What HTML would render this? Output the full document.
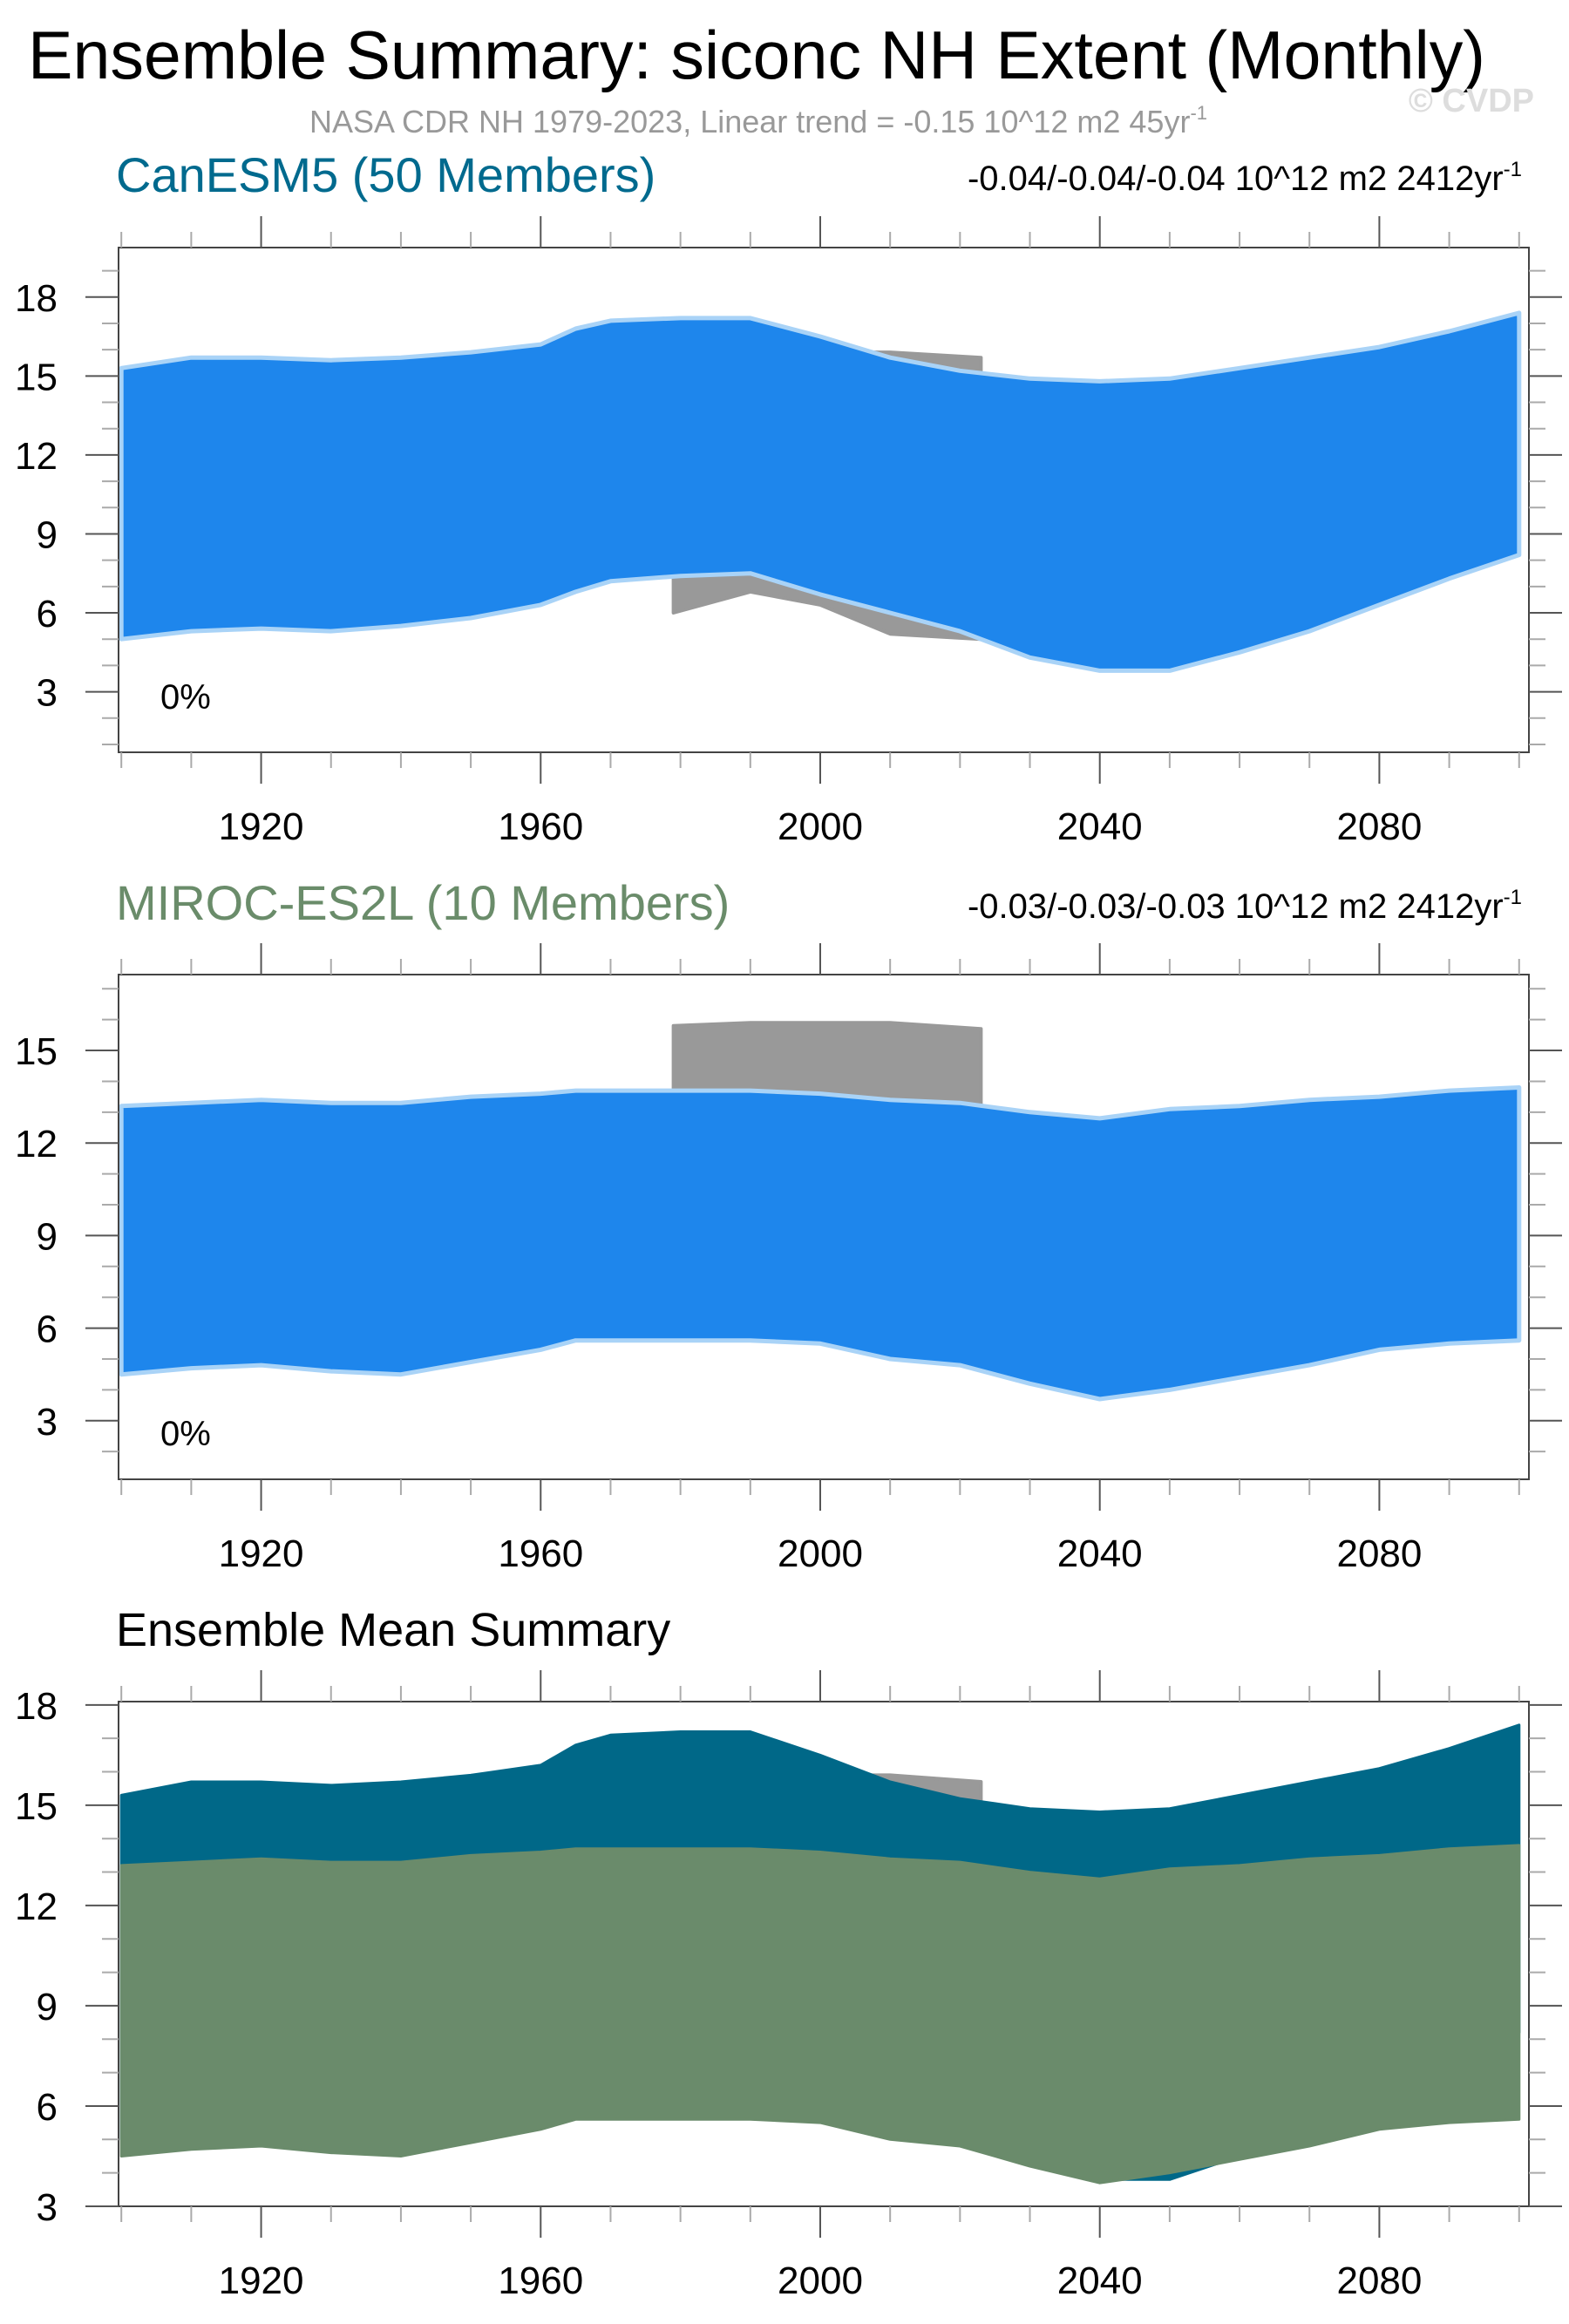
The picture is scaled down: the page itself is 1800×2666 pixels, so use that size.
<!DOCTYPE html>
<html><head><meta charset="utf-8"><style>
html,body{margin:0;padding:0;background:#fff;}
svg{display:block;font-family:"Liberation Sans",sans-serif;}
</style></head><body>
<svg id="chart" width="1800" height="2666" viewBox="0 0 1800 2666" xmlns="http://www.w3.org/2000/svg">
<text x="868" y="90" font-size="78" text-anchor="middle" fill="#000" textLength="1672" lengthAdjust="spacingAndGlyphs">Ensemble Summary: siconc NH Extent (Monthly)</text>
<text x="870" y="152" font-size="36" text-anchor="middle" fill="#999">NASA CDR NH 1979-2023, Linear trend = -0.15 10^12 m2 45yr<tspan dy="-15" font-size="22">-1</tspan></text>
<text x="1760" y="128" font-size="38" text-anchor="end" fill="#ddd" font-weight="bold">© CVDP</text>
<text x="133" y="220" font-size="56" fill="#006a8e">CanESM5 (50 Members)</text>
<text x="1746" y="218" font-size="40" text-anchor="end" fill="#000">-0.04/-0.04/-0.04 10^12 m2 2412yr<tspan dy="-16" font-size="24">-1</tspan></text>
<text x="133" y="1055" font-size="56" fill="#6a8c6a">MIROC-ES2L (10 Members)</text>
<text x="1746" y="1053" font-size="40" text-anchor="end" fill="#000">-0.03/-0.03/-0.03 10^12 m2 2412yr<tspan dy="-16" font-size="24">-1</tspan></text>
<text x="133" y="1888" font-size="54" fill="#000">Ensemble Mean Summary</text>
<g id="panels"></g>
</svg>
<script>
const years = [1900,1910,1920,1930,1940,1950,1960,1965,1970,1980,1990,2000,2010,2020,2030,2040,2050,2060,2070,2080,2090,2100];
const canMax = [15.3,15.7,15.7,15.6,15.7,15.9,16.2,16.8,17.1,17.2,17.2,16.5,15.7,15.2,14.9,14.8,14.9,15.3,15.7,16.1,16.7,17.4];
const canMin = [5.0,5.3,5.4,5.3,5.5,5.8,6.3,6.8,7.2,7.4,7.5,6.7,6.0,5.3,4.3,3.8,3.8,4.5,5.3,6.3,7.3,8.2];
const mirMax = [13.2,13.3,13.4,13.3,13.3,13.5,13.6,13.7,13.7,13.7,13.7,13.6,13.4,13.3,13.0,12.8,13.1,13.2,13.4,13.5,13.7,13.8];
const mirMin = [4.5,4.7,4.8,4.6,4.5,4.9,5.3,5.6,5.6,5.6,5.6,5.5,5.0,4.8,4.2,3.7,4.0,4.4,4.8,5.3,5.5,5.6];
const obsYears = [1979,1990,2000,2010,2023];
const obsMax = [15.8,15.9,15.9,15.9,15.7];
const obsMin = [6.0,6.8,6.3,5.2,5.0];
const panel1Ticks = [3,6,9,12,15,18];
const panel2Ticks = [3,6,9,12,15];
const panel3Ticks = [3,6,9,12,15,18];
const xTickLabels = [1920,1960,2000,2040,2080];

const NS="http://www.w3.org/2000/svg";
const root=document.getElementById('panels');
function mk(tag,attrs,parent){const e=document.createElementNS(NS,tag);for(const k in attrs)e.setAttribute(k,attrs[k]);(parent||root).appendChild(e);return e;}

const X0=136,X1=1754,YR0=1899.6,YR1=2101.4;
function xs(y){return X0+(y-YR0)/(YR1-YR0)*(X1-X0);}

function band(g,xsArr,maxA,minA,sy,fill,stroke,sw,name){
  let pts=[];
  for(let i=0;i<xsArr.length;i++)pts.push(xs(xsArr[i]).toFixed(1)+','+sy(maxA[i]).toFixed(1));
  for(let i=xsArr.length-1;i>=0;i--)pts.push(xs(xsArr[i]).toFixed(1)+','+sy(minA[i]).toFixed(1));
  const p=mk('polygon',{points:pts.join(' '),fill:fill,stroke:stroke,'stroke-width':sw,'stroke-linejoin':'round'},g);
  
  
}

function panel(top,bottom,vTop,vBot,ticks,series,pct,pname){
  const g=mk('g',{});
  
  
  const sy=v=>top+(vTop-v)/(vTop-vBot)*(bottom-top);
  band(g,obsYears,obsMax,obsMin,sy,'#999','#999',4,'obs-band');
  series.forEach(s=>{band(g,years,s.max,s.min,sy,s.fill,s.stroke,s.sw,s.name);});
  const f=mk('rect',{x:X0,y:top,width:X1-X0,height:bottom-top,fill:'none',stroke:'#444','stroke-width':2},g);
  
  
  for(let v=Math.ceil(vBot);v<=Math.floor(vTop);v++){
    const maj=ticks.includes(v);
    const y=sy(v);
    mk('line',{x1:maj?98:117,x2:X0,y1:y,y2:y,stroke:maj?'#555':'#aaa','stroke-width':2},g);
    mk('line',{x1:X1,x2:maj?1792:1773,y1:y,y2:y,stroke:maj?'#555':'#aaa','stroke-width':2},g);
  }
  ticks.forEach(v=>{
    const t=mk('text',{x:66,y:sy(v)+16,'font-size':44,'text-anchor':'end',fill:'#000'},g);
    t.textContent=v;
    
    
  });
  for(let yr=1900;yr<=2100;yr+=10){
    const maj=yr%40===0&&yr>1900;
    const x=xs(yr);
    mk('line',{x1:x,x2:x,y1:top-(maj?36:18),y2:top,stroke:maj?'#555':'#aaa','stroke-width':2},g);
    mk('line',{x1:x,x2:x,y1:bottom,y2:bottom+(maj?36:18),stroke:maj?'#555':'#aaa','stroke-width':2},g);
  }
  xTickLabels.forEach(yr=>{
    const t=mk('text',{x:xs(yr),y:bottom+100,'font-size':44,'text-anchor':'middle',fill:'#000'},g);
    t.textContent=yr;
    
    
  });
  if(pct!==null){
    const t=mk('text',{x:184,y:sy(pct),'font-size':40,fill:'#000'},g);
    t.textContent='0%';
    
    
  }
}
panel(284,863,19.88,0.7,panel1Ticks,[{max:canMax,min:canMin,fill:'#1e86ec',stroke:'#a9d3f7',sw:5,name:'canesm5-band'}],2.35,'canesm5-panel');
panel(1118,1697,17.46,1.1,panel2Ticks,[{max:mirMax,min:mirMin,fill:'#1e86ec',stroke:'#a9d3f7',sw:5,name:'miroc-band'}],2.2,'miroc-panel');
panel(1952,2531,18.1,3.0,panel3Ticks,[{max:canMax,min:canMin,fill:'#006888',stroke:'#006888',sw:3,name:'canesm5-mean-band'},{max:mirMax,min:mirMin,fill:'#6a8b6b',stroke:'#6a8b6b',sw:3,name:'miroc-mean-band'}],null,'ensemble-mean-panel');
</script>
</body></html>
